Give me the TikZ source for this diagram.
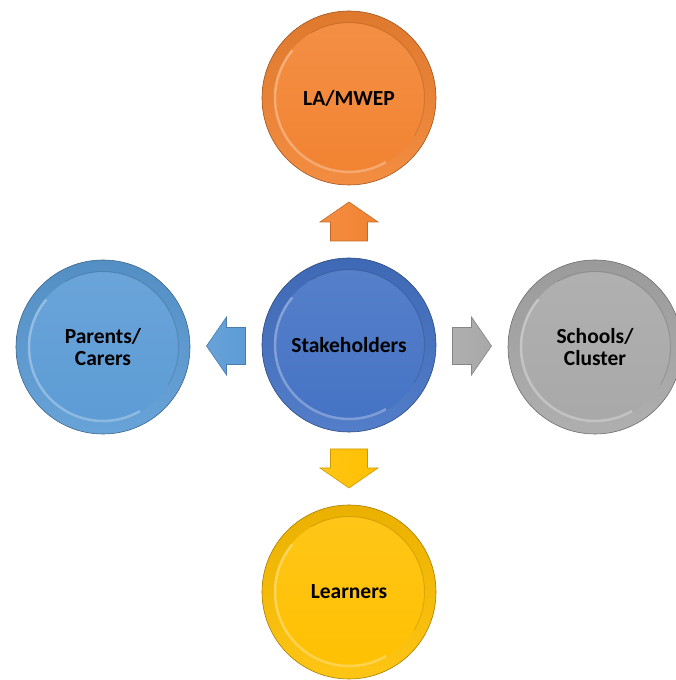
\documentclass[tikz,border=0pt]{standalone}
\usepackage{fontspec}
\setmainfont{Carlito}
\usetikzlibrary{calc}
\definecolor{corange}{HTML}{F28331}
\definecolor{cblue}{HTML}{4472C4}
\definecolor{clblue}{HTML}{5B9BD5}
\definecolor{cgray}{HTML}{A8A8A8}
\definecolor{cyellow}{HTML}{FFC000}
\newcommand\blockarr[3]{%
  \begin{scope}[shift={(#1)}, rotate=#2]
    \draw[draw=#3!80!black, line width=.6pt, left color=#3!92!white, right color=#3]
      (-19.5,-18.5) -- (-0.5,-18.5) -- (-0.5,-29) -- (19.5,0) -- (-0.5,29)
      -- (-0.5,18.5) -- (-19.5,18.5) -- cycle;
  \end{scope}}
\tikzset{
  button/.style={circle, minimum size=174pt, inner sep=0pt,
    draw=#1!65!black, line width=.6pt,
    top color=#1!92!black, bottom color=#1!92!white,
    align=center, text=black,
    font=\fontsize{21.5}{22.5}\selectfont\bfseries,
    path picture={
      \shade[top color=#1!90!white, bottom color=#1]
        (path picture bounding box.center) circle (75pt);
      \draw[white, opacity=.3, line width=2.5pt]
        ([shift={(140:74pt)}]path picture bounding box.center) arc (140:300:74pt);
      \draw[#1!60!black, opacity=.25, line width=1pt]
        ([shift={(-30:75.5pt)}]path picture bounding box.center) arc (-30:120:75.5pt);
    }}
}
\begin{document}
\begin{tikzpicture}[x=1pt,y=1pt]
\useasboundingbox (0,0) rectangle (675,680);
\node[button=cblue]   (c) at (349,335) {Stakeholders};
\node[button=corange] (t) at (349,582) {LA/MWEP};
\node[button=cyellow] (b) at (349,88)  {Learners};
\node[button=clblue]  (l) at (103,333) {Parents/\\Carers};
\node[button=cgray]   (r) at (595,333) {Schools/\\Cluster};
\coordinate (au) at ($(c.north)!.5!(t.south)$);
\coordinate (ad) at ($(c.south)!.5!(b.north)$);
\coordinate (al) at ($(c.west)!.5!(l.east)$);
\coordinate (ar) at ($(c.east)!.5!(r.west)$);
\blockarr{au}{90}{corange}
\blockarr{ad}{-90}{cyellow}
\blockarr{al}{180}{clblue}
\blockarr{ar}{0}{cgray}
\end{tikzpicture}
\end{document}
